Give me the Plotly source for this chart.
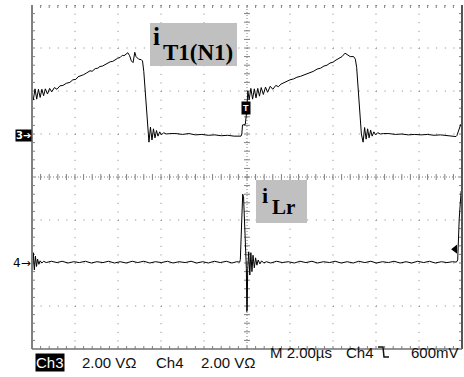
import plotly.graph_objects as go

# ---- data (time in divisions, 2 us/div; amplitude in divisions, 2 V/div) ----
ch3_t = [0.00, 0.03, 0.07, 0.11, 0.15, 0.19, 0.23, 0.27, 0.31, 0.36,
         0.41, 0.46, 0.52, 0.58, 0.65, 0.72,
         0.80, 0.88, 0.95, 1.02, 1.07, 1.13, 1.20, 1.27, 1.35, 1.40,
         1.47, 1.53, 1.58, 1.64, 1.70, 1.76, 1.82, 1.88, 1.93, 1.99,
         2.05, 2.10, 2.14, 2.19, 2.23,
         2.27, 2.31, 2.35, 2.39, 2.42, 2.48, 2.54, 2.57, 2.60, 2.63,
         2.66, 2.69, 2.72, 2.755, 2.79, 2.825, 2.86, 2.895, 2.93, 2.97,
         3.01, 3.06, 3.12, 3.20, 3.35, 3.50, 3.65, 3.80, 3.95,
         4.10, 4.25, 4.40, 4.55, 4.70, 4.86,
         4.88, 4.895, 4.96, 4.99, 5.02, 5.05, 5.09, 5.13, 5.17, 5.21,
         5.25, 5.29, 5.33, 5.38, 5.43, 5.48, 5.54, 5.60, 5.67, 5.73,
         5.79, 5.85, 5.92, 6.00, 6.08, 6.16,
         6.24, 6.32, 6.40, 6.47, 6.55, 6.63, 6.71, 6.79, 6.86, 6.93,
         7.00, 7.07, 7.14, 7.21, 7.28,
         7.33, 7.40, 7.48, 7.52, 7.55, 7.58, 7.62, 7.66, 7.70, 7.735,
         7.77, 7.805, 7.84, 7.875, 7.91, 7.95, 7.99, 8.04, 8.10, 8.17,
         8.30, 8.45, 8.60, 8.75, 8.90, 9.05, 9.20, 9.35, 9.50,
         9.65, 9.78, 9.86, 9.88, 9.93, 9.97, 10.0]
ch3_v = [0.95, 0.79, 1.05, 0.81, 1.04, 0.85, 1.04, 0.89, 1.05, 0.93,
         1.06, 0.98, 1.08, 1.04, 1.12, 1.13,
         1.18, 1.20, 1.26, 1.27, 1.33, 1.35, 1.38, 1.42, 1.47, 1.46,
         1.52, 1.53, 1.57, 1.58, 1.62, 1.64, 1.68, 1.69, 1.73, 1.76,
         1.78, 1.83, 1.82, 1.87, 1.89,
         1.82, 1.70, 1.66, 1.90, 1.80, 1.74, 1.73, 1.70, 1.45, 1.00,
         0.55, 0.10, -0.19, 0.16, -0.14, 0.12, -0.09, 0.08, -0.05, 0.05,
         -0.02, 0.03, 0.00, 0.01, 0.01, -0.01, 0.01, -0.02, -0.01,
         -0.03, -0.02, -0.04, -0.03, -0.05, -0.05,
         0.00, 0.21, 0.22, 0.50, 1.00, 0.80, 1.06, 0.81, 1.05, 0.84,
         1.06, 0.88, 1.08, 0.92, 1.09, 0.97, 1.11, 1.04, 1.13, 1.10,
         1.16, 1.19, 1.22, 1.26, 1.28, 1.32,
         1.34, 1.37, 1.41, 1.44, 1.46, 1.51, 1.53, 1.58, 1.60, 1.65,
         1.67, 1.72, 1.76, 1.80, 1.88,
         1.84, 1.80, 1.80, 1.74, 1.55, 1.10, 0.55, 0.00, -0.19, 0.15,
         -0.12, 0.12, -0.09, 0.09, -0.05, 0.05, -0.02, 0.03, 0.00, 0.01,
         0.01, -0.01, 0.00, -0.02, -0.01, -0.02, -0.01, -0.03, -0.02,
         -0.04, -0.05, -0.06, -0.04, 0.12, 0.22, 0.26]

ch4_t = [0.00, 0.01, 0.03, 0.055, 0.08, 0.105, 0.13, 0.16, 0.19, 0.23,
         0.27, 0.33, 0.45, 0.58, 0.70, 0.84, 0.97, 1.10,
         1.24, 1.38, 1.51, 1.65, 1.78, 1.92, 2.05, 2.19, 2.33, 2.46,
         2.60, 2.74, 2.87, 3.01, 3.15, 3.28, 3.42, 3.56, 3.70, 3.83,
         3.97, 4.10, 4.24, 4.38, 4.52, 4.65, 4.76, 4.83,
         4.845, 4.885, 4.90, 4.92, 4.955, 4.985, 4.995, 5.005,
         5.015, 5.04, 5.065, 5.09, 5.115, 5.14, 5.17, 5.20, 5.23, 5.26,
         5.30, 5.34, 5.39, 5.45,
         5.55, 5.69, 5.82, 5.96, 6.10, 6.23, 6.37, 6.51, 6.64, 6.78,
         6.92, 7.05, 7.19, 7.33, 7.47, 7.60, 7.74, 7.88, 8.01, 8.15,
         8.29, 8.42, 8.56, 8.70, 8.83, 8.97, 9.11, 9.24, 9.38, 9.52,
         9.65, 9.78, 9.87, 9.90, 9.935, 9.96, 9.98, 10.0]
ch4_v = [0.30, -0.24, 0.22, -0.18, 0.14, -0.10, 0.07, -0.05, 0.03, -0.02,
         0.02, -0.01, 0.02, -0.01, 0.02, -0.02, 0.01, -0.01,
         0.02, -0.02, 0.01, -0.01, 0.02, -0.02, 0.01, -0.02, 0.02, -0.01,
         0.02, -0.02, 0.01, -0.01, 0.02, -0.02, 0.01, -0.01, 0.02, -0.02,
         0.01, -0.02, 0.02, -0.01, 0.02, -0.02, 0.01, 0.00,
         0.06, 1.55, 1.58, 1.52, 0.30, -0.15, -1.15, -1.12,
         -0.20, 0.24, -0.30, 0.22, -0.22, 0.16, -0.13, 0.10, -0.07, 0.05,
         -0.04, 0.03, -0.02, 0.01,
         -0.02, 0.02, -0.01, 0.01, -0.02, 0.02, -0.01, 0.02, -0.02, 0.01,
         -0.01, 0.02, -0.02, 0.01, -0.02, 0.02, -0.01, 0.02, -0.02, 0.01,
         -0.01, 0.02, -0.02, 0.01, -0.02, 0.02, -0.01, 0.02, -0.02, 0.01,
         -0.01, 0.01, 0.00, 0.05, 1.00, 1.55, 1.65, 1.62]

CH3_OFFSET = 1.0      # ground marker of Ch3 (divisions)
CH4_OFFSET = -1.98    # ground marker of Ch4 (divisions)
TRIG_LEVEL = 0.3      # 600 mV at 2 V/div

# ---- layout geometry ----
W, H = 464, 377
L, R, T, B = 32, 2, 5, 28
PW, PH = W - L - R, H - T - B
NX, NY = 10, 8  # graticule divisions


def px(x):
    return (x - L) / PW


def py(y):
    return (H - B - y) / PH


fig = go.Figure()
fig.add_trace(go.Scatter(x=ch3_t, y=[CH3_OFFSET + v for v in ch3_v], mode="lines",
                         line=dict(color="black", width=1), hoverinfo="skip"))
fig.add_trace(go.Scatter(x=ch4_t, y=[CH4_OFFSET + v for v in ch4_v], mode="lines",
                         line=dict(color="black", width=1), hoverinfo="skip"))
fig.add_trace(go.Scatter(x=[9.84], y=[CH4_OFFSET + TRIG_LEVEL], mode="markers",
                         marker=dict(symbol="triangle-left", size=8, color="black"),
                         hoverinfo="skip", cliponaxis=False))

fig.update_xaxes(range=[0, NX], showgrid=False, zeroline=False, showticklabels=False,
                 ticks="", showline=False, fixedrange=True)
fig.update_yaxes(range=[-NY / 2, NY / 2], showgrid=False, zeroline=False,
                 showticklabels=False, ticks="", showline=False, fixedrange=True)

gridc = "#808080"
tl = 0.07  # ~3 px tick length in divisions

# dotted major graticule lines (one dot per 0.2 division)
gp = []
for i in range(1, NX):
    if i != NX // 2:
        gp.append("M%g,%g L%g,%g" % (i, NY / 2 - 0.001, i, -NY / 2))
for j in range(1, NY):
    yv = -NY / 2 + j
    if yv != 0:
        gp.append("M%g,%g L%g,%g" % (0, yv, NX, yv))
gp.append("M%g,%g L%g,%g" % (0, NY / 2 - 0.012, NX, NY / 2 - 0.012))

# tick marks every 0.2 division on the borders and on the centre cross
tp = []
for k in range(1, NX * 5):
    xv = k * 0.2
    tp.append("M%.3f,%g L%.3f,%g" % (xv, -NY / 2, xv, -NY / 2 + tl))
    tp.append("M%.3f,%g L%.3f,%g" % (xv, NY / 2, xv, NY / 2 - tl))
    tp.append("M%.3f,%g L%.3f,%g" % (xv, -tl, xv, tl))
for k in range(1, NY * 5):
    yv = -NY / 2 + k * 0.2
    tp.append("M%g,%.3f L%g,%.3f" % (0, yv, tl, yv))
    tp.append("M%g,%.3f L%g,%.3f" % (NX, yv, NX - tl, yv))
    tp.append("M%g,%.3f L%g,%.3f" % (NX / 2 - tl, yv, NX / 2 + tl, yv))

# falling-edge trigger symbol after "Ch4" in the status line (pixel positions)
edge = "M%f,%f L%f,%f L%f,%f L%f,%f" % (px(378), py(347), px(383), py(347),
                                         px(384), py(357), px(389), py(357))

shapes = [
    dict(type="path", xref="x", yref="y", path=" ".join(gp),
         line=dict(color=gridc, width=1, dash="1px,7.6px"), layer="below"),
    dict(type="path", xref="x", yref="y", path=" ".join(tp),
         line=dict(color=gridc, width=1), layer="below"),
    dict(type="line", xref="x", yref="y", x0=0, x1=NX, y0=0, y1=0,
         line=dict(color=gridc, width=1, dash="1px,2px"), layer="below"),
    dict(type="line", xref="x", yref="y", x0=NX / 2, x1=NX / 2, y0=-NY / 2, y1=NY / 2,
         line=dict(color=gridc, width=1, dash="1px,2px"), layer="below"),
    # borders
    dict(type="line", xref="paper", yref="paper", x0=0, x1=0, y0=0, y1=1,
         line=dict(color="#808080", width=2)),
    dict(type="line", xref="paper", yref="paper", x0=1, x1=1, y0=0, y1=1,
         line=dict(color="#555555", width=2)),
    dict(type="line", xref="paper", yref="paper", x0=0, x1=1, y0=0, y1=0,
         line=dict(color="#707070", width=1.5)),
    # label boxes
    dict(type="rect", xref="paper", yref="paper", x0=px(150), x1=px(237),
         y0=py(66), y1=py(23), fillcolor="#c0c0c0", line=dict(width=0), layer="above"),
    dict(type="rect", xref="paper", yref="paper", x0=px(256), x1=px(307),
         y0=py(223), y1=py(180), fillcolor="#c0c0c0", line=dict(width=0), layer="above"),
    dict(type="path", xref="paper", yref="paper", path=edge,
         line=dict(color="#111111", width=1.5)),
]

serif = "Liberation Serif"
sans = "Liberation Sans"
ann = []


def add(text, x, y, size, family=sans, color="#111111", xanchor="left", yanchor="middle",
        bgcolor=None, bold=False, pad=0):
    d = dict(text=("<b>%s</b>" % text) if bold else text, xref="paper", yref="paper",
             x=px(x), y=py(y), xanchor=xanchor, yanchor=yanchor, showarrow=False,
             font=dict(family=family, size=size, color=color), borderpad=pad)
    if bgcolor:
        d["bgcolor"] = bgcolor
    ann.append(d)


add("i", 152, 36, 25, family=serif, color="black", bold=True)
add("T1(N1)", 162, 52, 23, family=serif, color="black", bold=True)
add("i", 261, 195, 22, family=serif, color="black", bold=True)
add("Lr", 271, 207, 21, family=serif, color="black", bold=True)

add("3\u2794", 32, 135.5, 10, family="DejaVu Sans", color="white", xanchor="right",
    bgcolor="black", bold=True, pad=0)
add("4\u2192", 32, 263, 12, family="DejaVu Sans", color="black", xanchor="right")
add("T", 246, 108, 9, color="white", xanchor="center", bgcolor="black", bold=True, pad=1)

add("Ch3", 35, 362, 15, color="white", bgcolor="black", pad=0)
add("2.00 V\u03a9", 81, 362, 15)
add("Ch4", 155, 362, 15)
add("2.00 V\u03a9", 200, 362, 15)
add("M 2.00\u00b5s", 269, 352, 15)
add("Ch4", 345, 352, 15)
add("600mV", 460, 352, 15, xanchor="right")

fig.update_layout(width=W, height=H, margin=dict(l=L, r=R, t=T, b=B, pad=0),
                  paper_bgcolor="white", plot_bgcolor="white", showlegend=False,
                  shapes=shapes, annotations=ann)

fig.write_html("out.html", config={"displayModeBar": False})
